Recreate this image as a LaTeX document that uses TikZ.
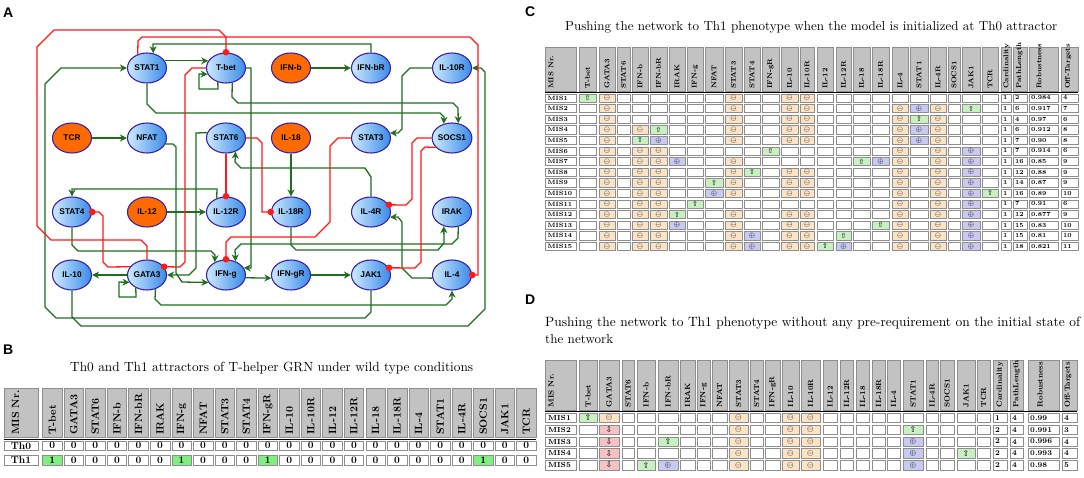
\documentclass[tikz,border=0pt]{standalone}
\usepackage{fontspec}
\usepackage{graphicx}
\newfontfamily\sansb{Liberation Sans}
\newfontfamily\symf{DejaVu Sans}
\usetikzlibrary{shapes.geometric,arrows.meta}
\definecolor{gA}{HTML}{1E6E1E}
\definecolor{rA}{HTML}{FF1A1A}
\definecolor{nbA}{HTML}{CDEBFF}
\definecolor{nbB}{HTML}{3A8AE8}
\definecolor{nbD}{HTML}{3A22A8}
\definecolor{orgA}{HTML}{FF6A00}
\definecolor{hdrC}{HTML}{C2C2C2}
\definecolor{gridC}{HTML}{8E8E8E}
\definecolor{cellcoln}{HTML}{FFFFFF}
\definecolor{cellcolm}{HTML}{FBE3C6}
\definecolor{cellcolp}{HTML}{C9C9F1}
\definecolor{cellcolu}{HTML}{C9F0C2}
\definecolor{cellcold}{HTML}{F5C2C6}
\definecolor{bcol0}{HTML}{FFFFFF}
\definecolor{bcol1}{HTML}{80EE80}
\def\cellsymn{}
\def\cellsymm{$\ominus$}
\def\cellsymp{$\oplus$}
\def\cellsymu{{\symf ⇧}}
\def\cellsymd{{\symf ⇩}}
\newcommand\tfB{\fontsize{10}{10}\selectfont\bfseries}
\newcommand\tfBh{\fontsize{10.5}{10.5}\selectfont\bfseries}
\newcommand\tfC{\fontsize{6.2}{6.2}\selectfont\bfseries}
\newcommand\tfCh{\fontsize{7}{7}\selectfont\bfseries}
\newcommand\tfCs{\fontsize{7}{7}\selectfont}
\newcommand\tfD{\fontsize{7.4}{7.4}\selectfont\bfseries}
\newcommand\tfDh{\fontsize{7.5}{7.5}\selectfont\bfseries}
\newcommand\tfDs{\fontsize{8}{8}\selectfont}
\def\genelist{T-bet,GATA3,STAT6,IFN-b,IFN-bR,IRAK,IFN-g,NFAT,STAT3,STAT4,IFN-gR,IL-10,IL-10R,IL-12,IL-12R,IL-18,IL-18R,IL-4,STAT1,IL-4R,SOCS1,JAK1,TCR}
\def\CXA{{579,599,617,632,650,669,687,705,725,744,762,781,800,817,836,853,872,892,910,930,948,962,982}}
\def\CXB{{596,615,630,648,667,685,703,723,742,760,779,798,814,833,851,870,889,908,928,946,960,980,998}}
\def\DXA{{579,599,622,637,658,680,697,712,729,750,765,782,801,823,840,856,872,887,903,926,940,957,977}}
\def\DXB{{597,619,634,655,678,695,710,727,748,763,780,799,820,837,853,869,885,900,923,938,954,975,990}}
\begin{document}
\begin{tikzpicture}[x=1pt,y=-1pt,
  gene/.style={ellipse,minimum width=39pt,minimum height=30pt,inner sep=0pt,draw=nbD,line width=1.1pt,left color=nbA,right color=nbB,font=\sansb\bfseries\fontsize{8.3}{9}\selectfont},
  extg/.style={ellipse,minimum width=39pt,minimum height=30pt,inner sep=0pt,draw=nbD,line width=1.1pt,fill=orgA,font=\sansb\bfseries\fontsize{8.3}{9}\selectfont},
  act/.style={draw=gA,line width=1.3pt,-{Stealth[length=7pt,width=7pt]}},
  inh/.style={draw=rA,line width=1.3pt,-{Circle[length=6.5pt]},shorten >=-3pt},
  cellb/.style={draw=gridC,line width=0.5pt},
  hdrb/.style={draw=gridC,line width=0.5pt,fill=hdrC},
  htxt/.style={rotate=90,anchor=west,inner sep=0pt},
  lbl/.style={anchor=base west,inner sep=0pt,font=\sansb\bfseries\fontsize{14}{14}\selectfont}]
\fill[white] (0,0) rectangle (1084,477);
\useasboundingbox (0,0) rectangle (1084,477);
% ---------------- panel labels
\node[lbl] (labA) at (3,17) {A};
\node[lbl] (labB) at (3,354) {B};
\node[lbl] (labC) at (525,16) {C};
\node[lbl] (labD) at (525,304) {D};
% ---------------- panel A nodes
\node[gene] (stat1) at (147,68) {STAT1};
\node[gene] (tbet) at (226,68) {T-bet};
\node[extg] (ifnb) at (291,68) {IFN-b};
\node[gene] (ifnbr) at (371,68) {IFN-bR};
\node[gene] (il10r) at (452,68) {IL-10R};
\node[extg] (tcr) at (72,138) {TCR};
\node[gene] (nfat) at (147,138) {NFAT};
\node[gene] (stat6) at (226,138) {STAT6};
\node[extg] (il18) at (291,138) {IL-18};
\node[gene] (stat3) at (371,138) {STAT3};
\node[gene] (socs1) at (452,138) {SOCS1};
\node[gene] (stat4) at (72,212) {STAT4};
\node[extg] (il12) at (147,212) {IL-12};
\node[gene] (il12r) at (226,212) {IL-12R};
\node[gene] (il18r) at (291,212) {IL-18R};
\node[gene] (il4r) at (371,212) {IL-4R};
\node[gene] (irak) at (452,212) {IRAK};
\node[gene] (il10) at (72,275) {IL-10};
\node[gene] (gata3) at (147,275) {GATA3};
\node[gene] (ifng) at (226,275) {IFN-g};
\node[gene] (ifngr) at (291,275) {IFN-gR};
\node[gene] (jak1) at (371,275) {JAK1};
\node[gene] (il4) at (452,275) {IL-4};
% ---------------- activations
\draw[act] (stat1.22) -- (tbet.158);
\draw[act] (tbet.-120.3) -- (218,89) -- (199,89) -- (199,74) -- (tbet.-161.4);
\draw[act] (stat1.south) -- (147,104) -- (156,113) -- (440,113) -- (444,117) -- (socs1.120.3);
\draw[act] (tbet.-67.2) -- (232,97) -- (238,103) -- (453,103) -- (458,108) -- (socs1.67.2);
\draw[act] (ifnbr.north) -- (371,44) -- (153,44) -- (stat1.67.2);
\draw[act] (ifnb.east) -- (ifnbr.west);
\draw[act] (il10r.west) -- (410,68) -- (402,76) -- (402,129) -- (398,133) -- (stat3.15.2);
\draw[act] (tcr.east) -- (nfat.west);
\draw[act] (nfat.-18.6) -- (173,144) -- (176,147) -- (176,273) -- (182,282) -- (ifng.-157.9);
\draw[act] (stat6.164.8) -- (196,133) -- (196,268) -- (189,275) -- (gata3.east);
\draw[act] (stat4.south) -- (72,245) -- (78,251) -- (211,251) -- (215,255) -- (ifng.131.6);
\draw[act] (il12.east) -- (il12r.west);
\draw[act] (il12r.124.1) -- (217,189) -- (72,189) -- (stat4.north);
\draw[act] (il4r.north) -- (371,177) -- (365,168) -- (241,168) -- (235,162) -- (stat6.-55.9);
\draw[act] (il18.south) -- (il18r.north);
\draw[act] (tbet.east) -- (251,68) -- (251,268) -- (ifng.22.1);
\draw[act] (irak.-67.2) -- (458,238) -- (452,244) -- (241,244) -- (235,250) -- (ifng.55.9);
\draw[act] (il18r.south) -- (291,245) -- (296,250) -- (438,250) -- (444,243) -- (irak.-120.3);
\draw[act] (ifng.-8.9) -- (ifngr.-171.1);
\draw[act] (ifngr.east) -- (jak1.west);
\draw[act] (il4.-171.1) -- (412,278) -- (402,268) -- (402,222) -- (398,217) -- (il4r.-15.2);
\draw[act] (gata3.west) -- (il10.east);
\draw[act] (gata3.-131.6) -- (136,297) -- (119,297) -- (119,282) -- (gata3.-157.9);
\draw[act] (gata3.-59.7) -- (155,299) -- (161,305) -- (446,305) -- (452,299) -- (il4.south);
\draw[act] (jak1.south) -- (371,312) -- (365,318) -- (56,318) -- (45,307) -- (45,84) -- (61,68) -- (stat1.west);
\draw[act] (il10.south) -- (72,317) -- (81,326) -- (468,326) -- (485,309) -- (485,72) -- (481,68) -- (il10r.east);
% ---------------- inhibitions
\draw[inh] (gata3.north) -- (147,246) -- (141,240) -- (51,240) -- (37,226) -- (37,47) -- (54,30) -- (219,30) -- (226,37) -- (tbet.north);
\draw[inh] (stat1.124.1) -- (138,41) -- (142,37) -- (470,37) -- (478,45) -- (478,275) -- (il4.east);
\draw[inh] (tbet.west) -- (192,68) -- (185,75) -- (185,262) -- (180,267) -- (gata3.26);
\draw[inh] (gata3.154.1) -- (108,267) -- (103,262) -- (103,216) -- (99,212) -- (stat4.east);
\draw[inh] (stat6.south) -- (il12r.north);
\draw[inh] (stat6.east) -- (257,138) -- (262,143) -- (262,212) -- (il18r.west);
\draw[inh] (stat3.west) -- (338,138) -- (330,146) -- (330,222) -- (315,237) -- (231,237) -- (226,242) -- (ifng.north);
\draw[inh] (socs1.west) -- (417,138) -- (412,143) -- (412,199) -- (406,205) -- (il4r.22.1);
\draw[inh] (socs1.-150) -- (425,147) -- (421,151) -- (421,262) -- (415,268) -- (jak1.22.1);
% ---------------- panel B
\node[anchor=base west,inner sep=0pt] (titB) at (70,371) {\resizebox{403pt}{!}{Th0 and Th1 attractors of T-helper GRN under wild type conditions}};
\draw[hdrb] (4,388) rectangle (38,437);
\node[htxt,font=\tfBh] at (15.5,435) {MIS Nr.};
\foreach \gn [count=\cj from 0] in \genelist {
  \pgfmathsetmacro\xa{42.5+21.55*\cj}
  \draw[hdrb] (\xa,388) rectangle ({\xa+19.5},437);
  \node[htxt,font=\tfBh] at ({\xa+9.75},435) {\gn};
}
\draw[line width=1.5pt] (4,439.3) -- (536,439.3);
\foreach \rn/\ya/\vals in {Th0/441/{0,0,0,0,0,0,0,0,0,0,0,0,0,0,0,0,0,0,0,0,0,0,0},Th1/455.5/{1,0,0,0,0,0,1,0,0,0,1,0,0,0,0,0,0,0,0,0,1,0,0}} {
  \draw[cellb] (4,\ya) rectangle (38,{\ya+9.5});
  \node[font=\tfB,inner sep=0pt] at (21,{\ya+4.75}) {\rn};
  \foreach \vv [count=\cj from 0] in \vals {
    \pgfmathsetmacro\xa{42.5+21.55*\cj}
    \draw[cellb,fill=bcol\vv] (\xa,\ya) rectangle ({\xa+19.5},{\ya+9.5});
    \node[font=\tfB,inner sep=0pt] at ({\xa+9.75},{\ya+4.75}) {\vv};
  }
}
% ---------------- panel C
\node[anchor=base west,inner sep=0pt] (titC) at (565,30) {\resizebox{492pt}{!}{Pushing the network to Th1 phenotype when the model is initialized at Th0 attractor}};
\draw[hdrb] (545,47) rectangle (576,91);
\node[htxt,font=\tfCh] at (551,89) {MIS Nr.};
\foreach \gn [count=\cj from 0] in \genelist {
  \pgfmathsetmacro\xa{\CXA[\cj]}\pgfmathsetmacro\xb{\CXB[\cj]}
  \draw[hdrb] (\xa,47) rectangle (\xb,91);
  \node[htxt,font=\tfCh] at ({(\xa+\xb)/2},89) {\gn};
}
\foreach \xa/\xb/\xt/\gn in {1001/1011/1006.5/Cardinality,1013/1027/1019.5/PathLength,1029/1058/1039/Robustness,1061/1078/1068/Off-Targets} {
  \draw[hdrb] (\xa,47) rectangle (\xb,91);
  \node[htxt,font=\tfCh] at (\xt,89) {\gn};
}
\draw[line width=1.4pt] (545,92.4) -- (1078,92.4);
\foreach \rcells/\rca/\rcb/\rcc/\rcd [count=\rk] in {
{u,m,n,n,n,n,n,n,m,n,n,m,m,n,n,n,n,n,n,n,n,n,n}/1/2/0.984/4,
{n,m,n,n,n,n,n,n,m,n,n,m,m,n,n,n,n,m,p,m,n,u,n}/1/6/0.917/7,
{n,m,n,n,n,n,n,n,m,n,n,m,m,n,n,n,n,m,u,m,n,n,n}/1/4/0.97/6,
{n,m,n,m,u,n,n,n,m,n,n,m,m,n,n,n,n,m,p,m,n,n,n}/1/6/0.912/8,
{n,m,n,u,p,n,n,n,m,n,n,m,m,n,n,n,n,m,p,m,n,n,n}/1/7/0.90/8,
{n,m,n,m,m,n,n,n,n,n,u,n,n,n,n,n,n,m,n,m,n,p,n}/1/7/0.914/6,
{n,m,n,m,m,p,n,n,m,n,n,n,n,n,n,u,p,m,n,m,n,p,n}/1/16/0.85/9,
{n,m,n,m,m,n,n,n,m,u,n,m,m,n,n,n,n,m,n,m,n,p,n}/1/12/0.88/9,
{n,m,n,m,m,n,n,u,m,n,n,m,m,n,n,n,n,m,n,m,n,p,n}/1/14/0.87/9,
{n,m,n,m,m,n,n,p,m,n,n,m,m,n,n,n,n,m,n,m,n,p,u}/1/16/0.89/10,
{n,m,n,m,m,n,u,n,n,n,n,n,n,n,n,n,n,m,n,m,n,p,n}/1/7/0.91/6,
{n,m,n,m,m,u,n,n,m,n,n,m,m,n,n,n,n,m,n,m,n,p,n}/1/12/0.877/9,
{n,m,n,m,m,p,n,n,m,n,n,m,m,n,n,n,u,m,n,m,n,p,n}/1/15/0.83/10,
{n,m,n,m,m,n,n,n,m,p,n,m,m,n,u,n,n,m,n,m,n,p,n}/1/15/0.81/10,
{n,m,n,m,m,n,n,n,m,p,n,m,m,u,p,n,n,m,n,m,n,p,n}/1/18/0.821/11}{
  \pgfmathsetmacro\ya{93.8+10.6*(\rk-1)}
  \pgfmathsetmacro\yb{\ya+8.2}
  \pgfmathsetmacro\ym{\ya+4.1}
  \draw[cellb] (545,\ya) rectangle (576,\yb);
  \node[anchor=west,inner sep=0pt,font=\tfC] at (547.5,\ym) {MIS\rk};
  \foreach \cs [count=\cj from 0] in \rcells {
    \pgfmathsetmacro\xa{\CXA[\cj]}\pgfmathsetmacro\xb{\CXB[\cj]}
    \draw[cellb,fill=cellcol\cs] (\xa,\ya) rectangle (\xb,\yb);
    \node[inner sep=0pt,font=\tfCs] at ({(\xa+\xb)/2},\ym) {\csname cellsym\cs\endcsname};
  }
  \foreach \xa/\xb/\vv in {1001/1011/\rca,1013/1027/\rcb,1029/1058/\rcc,1061/1078/\rcd} {
    \draw[cellb] (\xa,\ya) rectangle (\xb,\yb);
    \node[anchor=west,inner sep=0pt,font=\tfC] at ({\xa+1.8},\ym) {\vv};
  }
}
% ---------------- panel D
\node[anchor=base west,inner sep=0pt] (titD1) at (545,326) {\resizebox{535pt}{!}{Pushing the network to Th1 phenotype without any pre-requirement on the initial state of}};
\node[anchor=base west,inner sep=0pt] (titD2) at (545,343.5) {\resizebox{68pt}{!}{the network}};
\draw[hdrb] (545,360) rectangle (576,410);
\node[htxt,font=\tfDh] at (551,407.5) {MIS Nr.};
\foreach \gn [count=\cj from 0] in \genelist {
  \pgfmathsetmacro\xa{\DXA[\cj]}\pgfmathsetmacro\xb{\DXB[\cj]}
  \draw[hdrb] (\xa,360) rectangle (\xb,410);
  \node[htxt,font=\tfDh] at ({(\xa+\xb)/2},407.5) {\gn};
}
\foreach \xa/\xb/\xt/\gn in {993/1007/1000/Cardinality,1010/1023/1016.5/PathLength,1028/1059/1040/Robustness,1062/1077/1068/Off-Targets} {
  \draw[hdrb] (\xa,360) rectangle (\xb,410);
  \node[htxt,font=\tfDh] at (\xt,407.5) {\gn};
}
\draw[line width=1.4pt] (545,411.7) -- (1077,411.7);
\foreach \rcells/\rca/\rcb/\rcc/\rcd [count=\rk] in {
{u,m,n,n,n,n,n,n,m,n,n,m,m,n,n,n,n,n,n,n,n,n,n}/1/4/0.99/4,
{n,d,n,n,n,n,n,n,m,n,n,m,m,n,n,n,n,n,u,n,n,n,n}/2/4/0.991/3,
{n,d,n,n,u,n,n,n,m,n,n,m,m,n,n,n,n,n,p,n,n,n,n}/2/4/0.996/4,
{n,d,n,n,n,n,n,n,m,n,n,m,m,n,n,n,n,n,p,n,n,u,n}/2/4/0.993/4,
{n,d,n,u,p,n,n,n,m,n,n,m,m,n,n,n,n,n,p,n,n,n,n}/2/4/0.98/5}{
  \pgfmathsetmacro\ya{413.3+11.8*(\rk-1)}
  \pgfmathsetmacro\yb{\ya+9.3}
  \pgfmathsetmacro\ym{\ya+4.65}
  \draw[cellb] (545,\ya) rectangle (576,\yb);
  \node[anchor=west,inner sep=0pt,font=\tfD] at (548,\ym) {MIS\rk};
  \foreach \cs [count=\cj from 0] in \rcells {
    \pgfmathsetmacro\xa{\DXA[\cj]}\pgfmathsetmacro\xb{\DXB[\cj]}
    \draw[cellb,fill=cellcol\cs] (\xa,\ya) rectangle (\xb,\yb);
    \node[inner sep=0pt,font=\tfDs] at ({(\xa+\xb)/2},\ym) {\csname cellsym\cs\endcsname};
  }
  \foreach \xa/\xb/\vv in {993/1007/\rca,1010/1023/\rcb,1028/1059/\rcc,1062/1077/\rcd} {
    \draw[cellb] (\xa,\ya) rectangle (\xb,\yb);
    \node[anchor=west,inner sep=0pt,font=\tfD] at ({\xa+2},\ym) {\vv};
  }
}
\end{tikzpicture}
\end{document}
